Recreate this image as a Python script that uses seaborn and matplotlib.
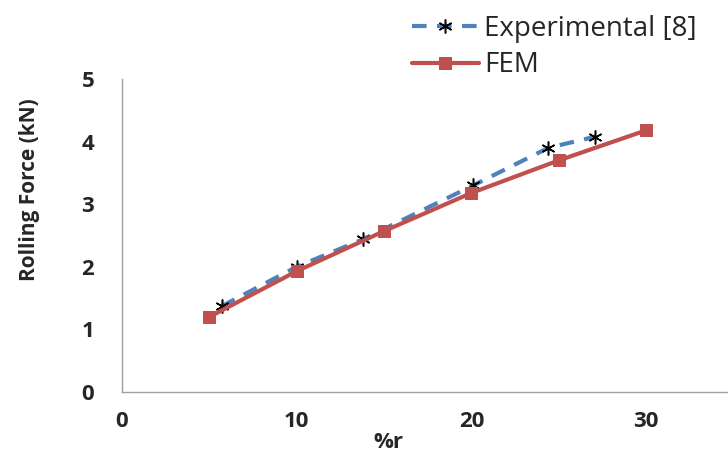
import matplotlib
matplotlib.use("Agg")
import matplotlib.pyplot as plt
import numpy as np
import seaborn as sns
import pandas as pd

# values
exp_r = [5.7, 10.0, 13.8, 20.1, 24.4, 27.1]
exp_force = [1.37, 2.0, 2.44, 3.3, 3.9, 4.08]
fem_r = [5, 10, 15, 20, 25, 30]
fem_force = [1.2, 1.93, 2.57, 3.18, 3.70, 4.18]
x_ticks = [0, 10, 20, 30]
y_ticks = [0, 1, 2, 3, 4, 5]

sns.set_style("white")
plt.rcParams["font.family"] = ["Open Sans", "DejaVu Sans"]

blue = "#4F81BD"
red = "#C0504D"

fig = plt.figure(figsize=(7.28, 4.55), dpi=100)
ax = fig.add_axes([122 / 728, 1 - 392 / 455, 611.5 / 728, 313 / 455])

sns.lineplot(x=exp_r, y=exp_force, ax=ax, color=blue, linewidth=3,
             linestyle=(0, (3.5, 2.5)), sort=False, estimator=None,
             marker=(6, 2, 0), markersize=10, markeredgecolor="black",
             markeredgewidth=1.1, label="Experimental [8]")
sns.lineplot(x=fem_r, y=fem_force, ax=ax, color=red, linewidth=3,
             sort=False, estimator=None, marker="s", markersize=9,
             markeredgecolor=red, label="FEM")

ax.set_xlim(0, 35)
ax.set_ylim(0, 5)
ax.set_xticks(x_ticks)
ax.set_yticks(y_ticks)
ax.tick_params(axis="both", length=0, labelsize=16)
ax.tick_params(axis="x", pad=14)
ax.tick_params(axis="y", pad=20)
for lab in ax.get_xticklabels() + ax.get_yticklabels():
    lab.set_fontweight("bold")

for side in ["top", "right"]:
    ax.spines[side].set_visible(False)
for side in ["left", "bottom"]:
    ax.spines[side].set_color("#A0A0A0")
    ax.spines[side].set_linewidth(1)

ax.set_xlabel("%r", fontsize=16, fontweight="bold")
ax.set_ylabel("Rolling Force (kN)", fontsize=15, fontweight="bold")
ax.xaxis.set_label_coords(0.435, -0.128)
ax.yaxis.set_label_coords(-0.134, 0.645)

ax.legend(loc="upper left", bbox_to_anchor=(412 / 728, 1 - 15 / 455),
          bbox_transform=fig.transFigure, frameon=False, fontsize=20,
          handlelength=2.4, handletextpad=0.2, labelspacing=0.3,
          borderpad=0, borderaxespad=0)

fig.savefig("out.png", dpi=100)
